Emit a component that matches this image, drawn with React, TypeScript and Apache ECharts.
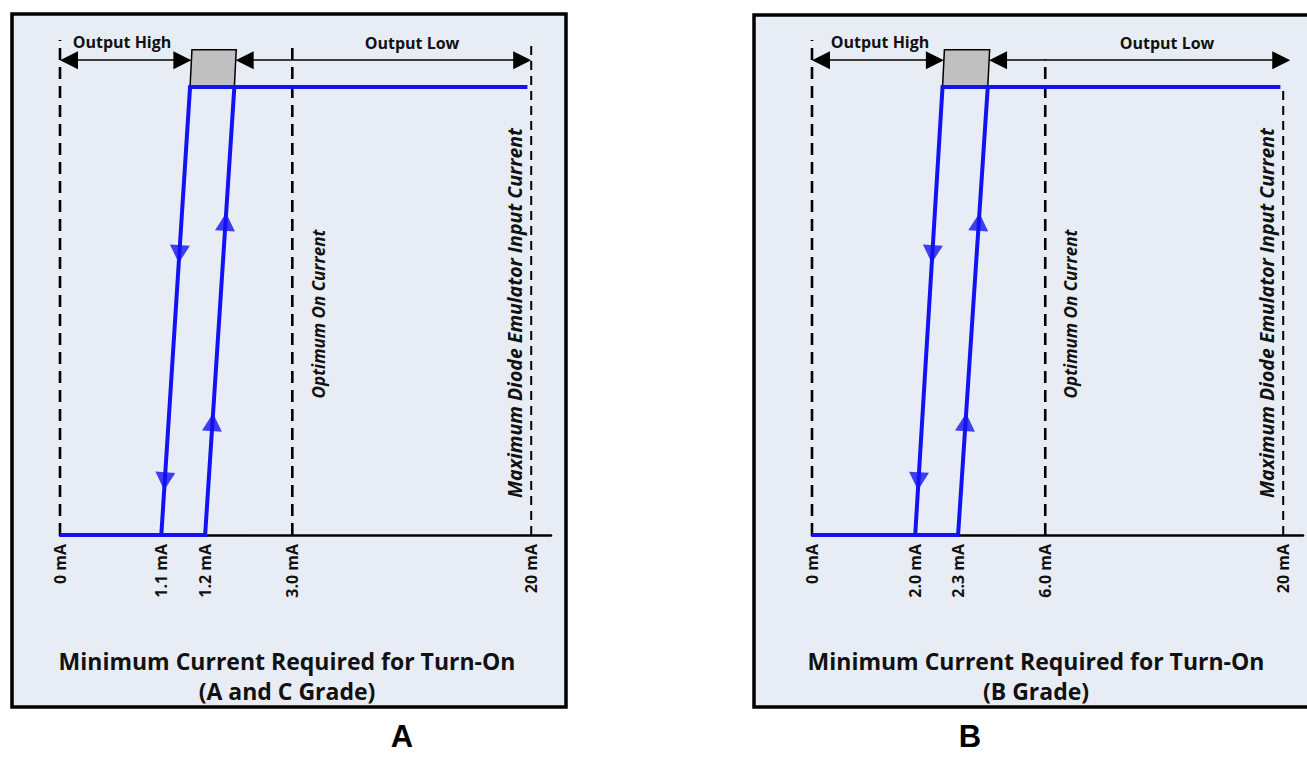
import React, { useEffect, useRef } from 'react';
import * as echarts from 'echarts';

// ---------- data ----------
const panelATicks = ['0 mA', '1.1 mA', '1.2 mA', '3.0 mA', '20 mA'];
const panelBTicks = ['0 mA', '2.0 mA', '2.3 mA', '6.0 mA', '20 mA'];
// schematic (not to scale) position of each tick along the axis, 0..100
const panelATickPos = [0, 21.5, 30.8, 49.3, 100];
const panelBTickPos = [0, 21.9, 31.0, 49.5, 100];
// schematic position where each transition reaches the output-low level
const panelARiserTop = [27.6, 37.0];
const panelBRiserTop = [27.7, 37.3];
// end of the output-low trace
const panelALineEnd = [99.2];
const panelBLineEnd = [99.4];
// output levels (high = 0, low = 100)
const outputLevels = [0, 100];
// dashed marker tops for ticks 0, 3 and 4
const panelADashTop = [110.5, 110, 110.5];
const panelBDashTop = [110.5, 106.2, 100];
// direction arrows on the hysteresis loop (height along the transition)
const downArrowLevels = [62.7, 12];
const upArrowLevels = [69.9, 25.2];
// indeterminate region (height range) and the bracket arrows level
const zoneLevels = [100, 108.3];
const zoneSkew = [0.4];
const bracketLevel = [106];
const panelABracketEnd = [100];
const panelBBracketEnd = [101.5];

const panelTitles = ['Minimum Current Required for Turn-On', 'Minimum Current Required for Turn-On'];
const panelSubtitles = ['(A and C Grade)', '(B Grade)'];
const panelLetters = ['A', 'B'];

const FONT = '"Open Sans", "Noto Sans", sans-serif';
const BLUE = '#1212F2';

type Panel = {
  ticks: string[];
  pos: number[];
  riserTop: number[];
  lineEnd: number;
  dashTop: number[];
  bracketEnd: number;
};

const panels: Panel[] = [
  { ticks: panelATicks, pos: panelATickPos, riserTop: panelARiserTop, lineEnd: panelALineEnd[0], dashTop: panelADashTop, bracketEnd: panelABracketEnd[0] },
  { ticks: panelBTicks, pos: panelBTickPos, riserTop: panelBRiserTop, lineEnd: panelBLineEnd[0], dashTop: panelBDashTop, bracketEnd: panelBBracketEnd[0] },
];

const gridLefts = [60, 812];
const X_MAX = 104.2;
const Y_MAX = 110.5;
const GRID_W = 491;
const GRID_H = 495;
const PX_X = GRID_W / X_MAX;
const PX_Y = GRID_H / Y_MAX;

function buildOption() {
  const grid: any[] = [];
  const xAxis: any[] = [];
  const yAxis: any[] = [];
  const series: any[] = [];

  panels.forEach((p, i) => {
    grid.push({ left: gridLefts[i], top: 40, width: GRID_W, height: GRID_H, containLabel: false });
    xAxis.push({
      type: 'value',
      gridIndex: i,
      min: 0,
      max: X_MAX,
      splitLine: { show: false },
      axisTick: { show: false },
      axisLine: { show: true, lineStyle: { color: '#000', width: 2.5 } },
      axisLabel: {
        customValues: p.pos,
        rotate: 90,
        margin: 9,
        color: '#111',
        fontSize: 16,
        fontWeight: 'bold',
        fontFamily: FONT,
        formatter: (v: number) => {
          const idx = p.pos.findIndex((q) => Math.abs(q - v) < 1e-6);
          return idx >= 0 ? p.ticks[idx] : '';
        },
      },
    });
    yAxis.push({ type: 'value', gridIndex: i, min: 0, max: Y_MAX, show: false });

    // dashed markers
    [0, 3, 4].forEach((ti, k) => {
      series.push({
        type: 'line',
        xAxisIndex: i,
        yAxisIndex: i,
        symbol: 'none',
        silent: true,
        z: 1,
        lineStyle: { color: '#000', width: ti === 4 ? 2 : 2.6, type: ti === 4 ? [9, 6] : [12, 7] },
        data: [
          [p.pos[ti], outputLevels[0]],
          [p.pos[ti], p.dashTop[k]],
        ],
      });
    });

    // hysteresis trace
    series.push({
      type: 'line',
      xAxisIndex: i,
      yAxisIndex: i,
      symbol: 'none',
      z: 3,
      lineStyle: { color: BLUE, width: 4, join: 'miter', cap: 'butt' },
      data: [
        [p.pos[0], outputLevels[0]],
        [p.pos[2], outputLevels[0]],
        [p.riserTop[1], outputLevels[1]],
        [p.lineEnd, outputLevels[1]],
      ],
    });
    series.push({
      type: 'line',
      xAxisIndex: i,
      yAxisIndex: i,
      symbol: 'none',
      z: 3,
      lineStyle: { color: BLUE, width: 4, join: 'miter', cap: 'butt' },
      data: [
        [p.pos[1], outputLevels[0]],
        [p.riserTop[0], outputLevels[1]],
        [p.riserTop[1], outputLevels[1]],
      ],
    });

    // direction arrows
    const arrowPts: any[] = [];
    const mk = (x0: number, x1: number, lv: number, down: boolean) => {
      const x = x0 + ((x1 - x0) * lv) / outputLevels[1];
      const ang = (Math.atan(((x1 - x0) * PX_X) / (outputLevels[1] * PX_Y)) * 180) / Math.PI;
      arrowPts.push({ value: [x, lv], symbolRotate: down ? 180 - ang : -ang });
    };
    downArrowLevels.forEach((lv) => mk(p.pos[1], p.riserTop[0], lv, true));
    upArrowLevels.forEach((lv) => mk(p.pos[2], p.riserTop[1], lv, false));
    series.push({
      type: 'scatter',
      xAxisIndex: i,
      yAxisIndex: i,
      symbol: 'triangle',
      symbolSize: [20, 18],
      z: 4,
      itemStyle: { color: BLUE },
      data: arrowPts,
    });

    // indeterminate zone box
    series.push({
      type: 'custom',
      xAxisIndex: i,
      yAxisIndex: i,
      z: 2,
      data: [[p.riserTop[0], p.riserTop[1]]],
      renderItem: (params: any, api: any) => {
        const a = api.value(0);
        const b = api.value(1);
        const pts = [
          api.coord([a, zoneLevels[0]]),
          api.coord([b, zoneLevels[0]]),
          api.coord([b + zoneSkew[0], zoneLevels[1]]),
          api.coord([a + zoneSkew[0], zoneLevels[1]]),
        ];
        return {
          type: 'polygon',
          shape: { points: pts },
          style: { fill: '#C0C0C0', stroke: '#000', lineWidth: 1.5 },
        };
      },
    });

    // bracket arrows (Output High / Output Low)
    const arrowInset = 9 / PX_X;
    const zoneEdgeL = p.riserTop[0] + zoneSkew[0] * 0.7;
    const zoneEdgeR = p.riserTop[1] + zoneSkew[0] * 0.7;
    series.push({
      type: 'lines',
      coordinateSystem: 'cartesian2d',
      xAxisIndex: i,
      yAxisIndex: i,
      z: 3,
      symbol: ['triangle', 'triangle'],
      symbolSize: 18,
      lineStyle: { color: '#000', width: 1.5, opacity: 1 },
      itemStyle: { color: '#000' },
      data: [
        { coords: [[p.pos[0] + arrowInset, bracketLevel[0]], [zoneEdgeL - arrowInset, bracketLevel[0]]] },
        { coords: [[zoneEdgeR + arrowInset, bracketLevel[0]], [p.bracketEnd - arrowInset, bracketLevel[0]]] },
      ],
    });
  });

  const graphic: any[] = [];
  const panelRects = [
    { x: 12, y: 14, w: 554, h: 693 },
    { x: 754, y: 15, w: 570, h: 692 },
  ];
  panelRects.forEach((r) => {
    graphic.push({
      type: 'rect',
      z: -10,
      shape: { x: r.x, y: r.y, width: r.w, height: r.h },
      style: { fill: '#E8EDF5', stroke: '#000', lineWidth: 3.5 },
    });
  });

  const centers = [287, 1036];
  centers.forEach((cx, i) => {
    graphic.push({
      type: 'text', x: cx, y: 661, z: 10,
      style: { text: panelTitles[i], font: `bold 23px ${FONT}`, fill: '#111', align: 'center', verticalAlign: 'middle' },
    });
    graphic.push({
      type: 'text', x: cx, y: 691, z: 10,
      style: { text: panelSubtitles[i], font: `bold 23px ${FONT}`, fill: '#111', align: 'center', verticalAlign: 'middle' },
    });
  });
  const letterX = [402, 970];
  letterX.forEach((lx, i) => {
    graphic.push({
      type: 'text', x: lx, y: 736, z: 10,
      style: { text: panelLetters[i], font: 'bold 31px "Liberation Sans", Arial, sans-serif', fill: '#000', align: 'center', verticalAlign: 'middle' },
    });
  });

  const highX = [122, 880];
  const lowX = [412, 1167];
  [0, 1].forEach((i) => {
    graphic.push({
      type: 'text', x: highX[i], y: 42, z: 10,
      style: { text: 'Output High', font: `bold 16px ${FONT}`, fill: '#111', align: 'center', verticalAlign: 'middle' },
    });
    graphic.push({
      type: 'text', x: lowX[i], y: 43, z: 10,
      style: { text: 'Output Low', font: `bold 16px ${FONT}`, fill: '#111', align: 'center', verticalAlign: 'middle' },
    });
  });

  const optX = [318, 1070];
  const maxX = [514, 1266];
  [0, 1].forEach((i) => {
    graphic.push({
      type: 'text', x: optX[i], y: 314, rotation: Math.PI / 2, z: 10,
      style: { text: 'Optimum On Current', font: `italic bold 17px ${FONT}`, fill: '#111', align: 'center', verticalAlign: 'middle' },
    });
    graphic.push({
      type: 'text', x: maxX[i], y: 313, rotation: Math.PI / 2, z: 10,
      style: { text: 'Maximum Diode Emulator Input Current', font: `italic bold 19.5px ${FONT}`, fill: '#111', align: 'center', verticalAlign: 'middle' },
    });
  });

  return {
    animation: false,
    backgroundColor: '#fff',
    grid,
    xAxis,
    yAxis,
    series,
    graphic,
  };
}

export default function App() {
  const ref = useRef<HTMLDivElement>(null);
  useEffect(() => {
    if (!ref.current) return;
    const chart = echarts.init(ref.current, undefined, { renderer: 'svg' });
    chart.setOption(buildOption() as any);
    return () => chart.dispose();
  }, []);
  return (
    <div
      ref={ref}
      style={{ position: 'fixed', left: 0, top: 0, width: 1307, height: 759, background: '#fff' }}
    />
  );
}
